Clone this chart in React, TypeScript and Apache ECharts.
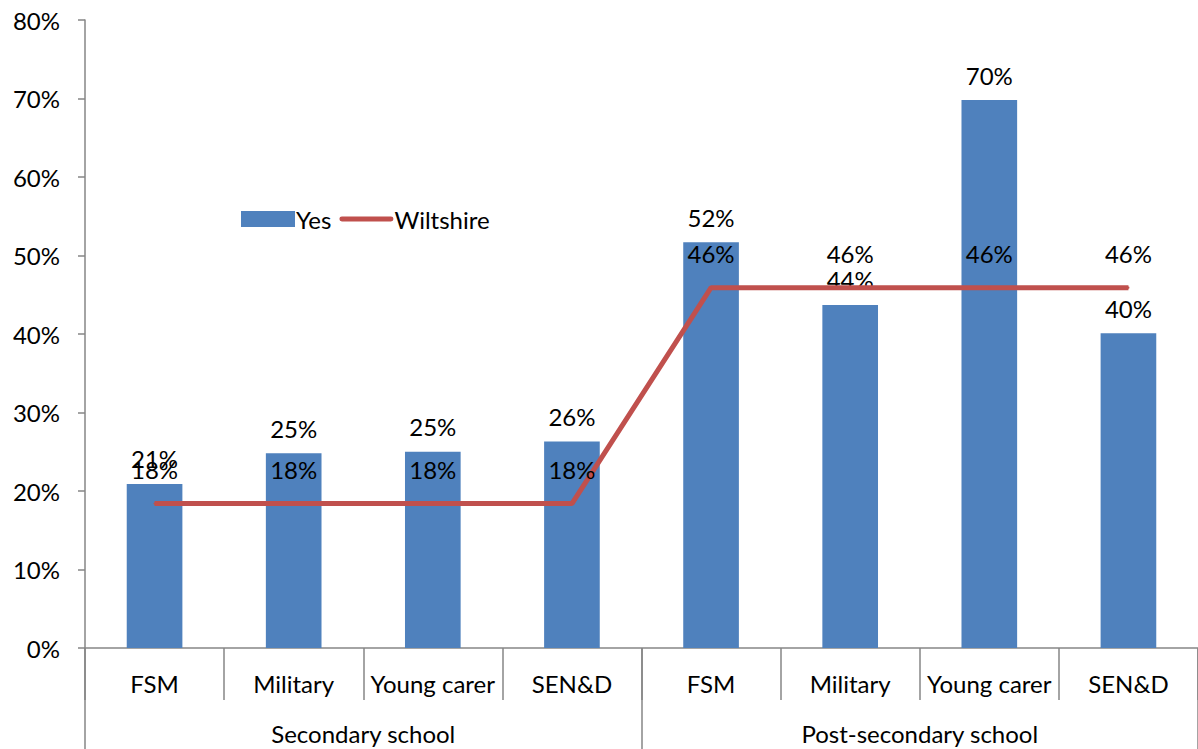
import React, { useEffect, useRef } from "react";
import * as echarts from "echarts";

const categories = ["FSM", "Military", "Young carer", "SEN&D", "FSM", "Military", "Young carer", "SEN&D"];
const groups = ["Secondary school", "Post-secondary school"];
const yesValues = [20.9, 24.8, 25.0, 26.3, 51.7, 43.7, 69.8, 40.1];
const wiltshireValues = [18.4, 18.4, 18.4, 18.4, 45.9, 45.9, 45.9, 45.9];
const yTicks = [0, 10, 20, 30, 40, 50, 60, 70, 80];

const FONT = "Lato, 'Open Sans', sans-serif";
const FS = 24;
const AXIS_COLOR = "#868686";
const BLUE = "#4F81BD";
const RED = "#C0504D";

export default function App() {
  const ref = useRef<HTMLDivElement>(null);
  useEffect(() => {
    if (!ref.current) return;
    const chart = echarts.init(ref.current, null, { renderer: "svg" });
    chart.setOption({
      animation: false,
      textStyle: { fontFamily: FONT, color: "#000" },
      grid: { left: 85, top: 20, width: 1118, bottom: 101, containLabel: false },
      legend: {
        left: 236,
        top: 202,
        itemWidth: 54,
        itemHeight: 16,
        itemGap: 8,
        textStyle: { fontFamily: FONT, fontSize: FS, color: "#000", padding: [0, 0, 0, -4] },
        data: [
          { name: "Yes", icon: "rect", itemStyle: { color: BLUE } },
          {
            name: "Wiltshire",
            icon: "path://M2,0 H52 A2.5,2.5 0 0 1 52,5 H2 A2.5,2.5 0 0 1 2,0 Z",
            itemStyle: { color: RED, opacity: 1 },
          },
        ],
      },
      xAxis: [
        {
          type: "category",
          data: categories,
          position: "bottom",
          axisLine: { show: true, lineStyle: { color: AXIS_COLOR, width: 1.5 } },
          axisTick: { show: true, interval: 0, length: 52, lineStyle: { color: AXIS_COLOR, width: 1.5 } },
          axisLabel: { interval: 0, margin: 23, fontSize: FS, color: "#000", fontFamily: FONT },
        },
        {
          type: "category",
          data: groups,
          position: "bottom",
          gridIndex: 0,
          axisLine: { show: false },
          axisTick: { show: true, interval: 0, length: 102, lineStyle: { color: AXIS_COLOR, width: 1.5 } },
          axisLabel: { interval: 0, margin: 73, fontSize: FS, color: "#000", fontFamily: FONT },
        },
      ],
      yAxis: {
        type: "value",
        min: 0,
        max: 80,
        interval: 10,
        axisLine: { show: true, lineStyle: { color: AXIS_COLOR, width: 1.5 } },
        axisTick: { show: true, length: 7, lineStyle: { color: AXIS_COLOR, width: 1.5 } },
        splitLine: { show: false },
        axisLabel: {
          margin: 25,
          fontSize: FS,
          color: "#000",
          fontFamily: FONT,
          formatter: (v: number) => (yTicks.includes(v) ? v + "%" : ""),
        },
      },
      series: [
        {
          name: "Yes",
          type: "bar",
          data: yesValues,
          barWidth: "40%",
          itemStyle: { color: BLUE },
          label: {
            show: true,
            position: "top",
            distance: 13,
            fontSize: FS,
            color: "#000",
            fontFamily: FONT,
            formatter: (p: any) => Math.round(p.value) + "%",
          },
        },
        {
          name: "Wiltshire",
          type: "line",
          data: wiltshireValues,
          symbol: "circle",
          symbolSize: 2,
          showSymbol: true,
          lineStyle: { color: RED, width: 5 },
          itemStyle: { color: RED },
          label: {
            show: true,
            position: "top",
            distance: 21,
            fontSize: FS,
            color: "#000",
            fontFamily: FONT,
            formatter: (p: any) => Math.round(p.value) + "%",
          },
          labelLayout: { hideOverlap: false },
          z: 3,
        },
      ],
    });
    return () => chart.dispose();
  }, []);
  return (
    <div
      ref={ref}
      style={{ position: "fixed", left: 0, top: 0, width: 1198, height: 749, background: "#fff" }}
    />
  );
}
